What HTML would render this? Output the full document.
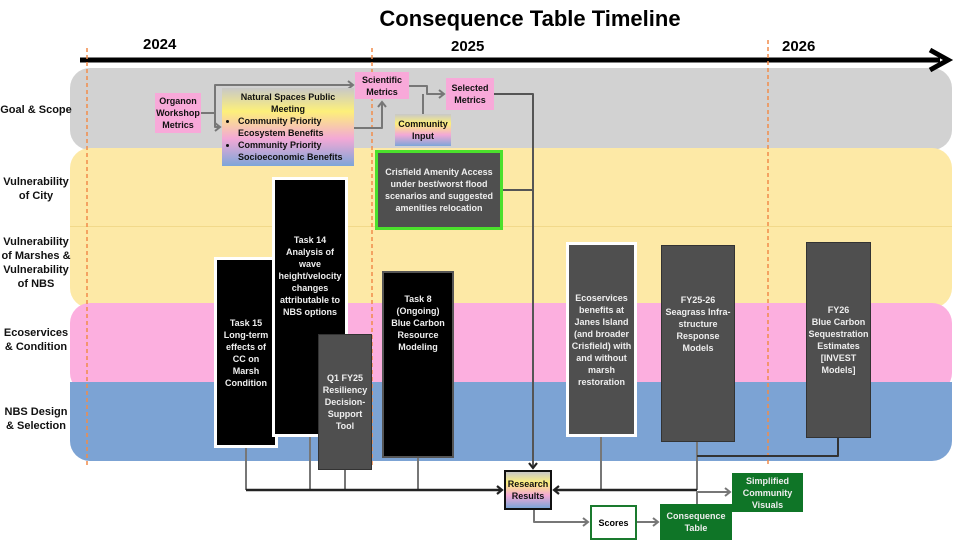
<!DOCTYPE html>
<html><head><meta charset="utf-8"><style>
body{margin:0;width:960px;height:540px;overflow:hidden;background:#fff;font-family:"Liberation Sans",sans-serif;position:relative}
.a{position:absolute}
.band{position:absolute;left:70px;width:882px;border-radius:20px}
.lab{position:absolute;left:0;width:72px;font-size:11px;font-weight:bold;color:#111;text-align:center;line-height:14px}
.box{position:absolute;box-sizing:border-box;display:flex;align-items:center;justify-content:center;text-align:center;font-size:9px;font-weight:bold;line-height:12px}
.dk{color:#eee;background:#000}
.gr{color:#eee;background:#4f4f4f}
.pk{background:#f8a9d9;color:#111}
.grad{background:linear-gradient(#c8c8c8,#fdf07a 30%,#f3a8d6 65%,#7da6d8);color:#111}
.top{align-items:flex-start}
</style></head><body>
<div class="a" style="left:0;top:6px;width:1060px;text-align:center;font-size:22px;font-weight:bold">Consequence Table Timeline</div>
<div class="a" style="left:143px;top:36px;font-size:15px;font-weight:bold">2024</div>
<div class="a" style="left:451px;top:38px;font-size:15px;font-weight:bold">2025</div>
<div class="a" style="left:782px;top:38px;font-size:15px;font-weight:bold">2026</div>
<div class="band" style="top:68px;height:82px;background:#d2d2d2"></div>
<div class="band" style="top:148px;height:160px;background:#fde9a6"></div>
<div class="a" style="left:70px;top:226px;width:882px;height:1px;background:#f2d98a"></div>
<div class="band" style="top:303px;height:90px;background:#fcafdf"></div>
<div class="band" style="top:382px;height:79px;background:#7ca3d4;border-radius:0 0 20px 20px"></div>
<div class="lab" style="top:103px">Goal &amp; Scope</div>
<div class="lab" style="top:175px">Vulnerability<br>of City</div>
<div class="lab" style="top:235px">Vulnerability<br>of Marshes &amp;<br>Vulnerability<br>of NBS</div>
<div class="lab" style="top:326px">Ecoservices<br>&amp; Condition</div>
<div class="lab" style="top:405px">NBS Design<br>&amp; Selection</div>
<svg class="a" style="left:0;top:0" width="960" height="540">
<defs><marker id="m" markerUnits="userSpaceOnUse" markerWidth="8" markerHeight="10" refX="6" refY="5" orient="auto"><path d="M1,1 L6,5 L1,9" fill="none" stroke="#777" stroke-width="2"/></marker>
<marker id="k" markerUnits="userSpaceOnUse" markerWidth="8" markerHeight="10" refX="6" refY="5" orient="auto"><path d="M1,1 L6,5 L1,9" fill="none" stroke="#222" stroke-width="2.2"/></marker></defs>
<line x1="80" y1="60" x2="940" y2="60" stroke="#000" stroke-width="5"/>
<path d="M930,50 L948,60 L930,70" fill="none" stroke="#000" stroke-width="5"/>
<g stroke="#f28c4a" stroke-width="1.5" stroke-dasharray="4,3"><line x1="87" y1="48" x2="87" y2="465"/><line x1="372" y1="48" x2="372" y2="465"/><line x1="768" y1="40" x2="768" y2="465"/></g>
<g fill="none" stroke="#777" stroke-width="2" stroke-linejoin="round">
<path d="M201,113 H215 V85 H353" marker-end="url(#m)"/>
<path d="M215,113 V127 H220" marker-end="url(#m)"/>
<path d="M354,128 H382 V102" marker-end="url(#m)"/>
<path d="M409,86 H427 V94 H444" marker-end="url(#m)"/>
<path d="M423,114 V94"/>
<path d="M494,94 H533 V468" marker-end="url(#k)" stroke="#555"/>
<path d="M502,190 H533" stroke="#555"/>
<path d="M246,448 V490 M310,437 V490 M345,470 V490 M418,458 V490"/>
<path d="M246,490 H502" stroke="#222" stroke-width="2.5" marker-end="url(#k)"/>
<path d="M601,437 V490 M697,442 V490"/>
<path d="M697,456 H838 V438" stroke="#333"/>
<path d="M697,490 H554" stroke="#222" stroke-width="2.5" marker-end="url(#k)"/>
<path d="M534,510 V522 H588" marker-end="url(#m)"/>
<path d="M637,522 H658" marker-end="url(#m)"/>
<path d="M697,504 V492 H730" marker-end="url(#m)"/>
</g></svg>
<div class="box pk" style="left:155px;top:93px;width:46px;height:40px">Organon Workshop Metrics</div>
<div class="box grad" style="left:222px;top:88px;width:132px;height:78px;display:block;text-align:left;padding:3px 4px;font-size:9px"><div style="text-align:center">Natural Spaces Public Meeting</div><ul style="margin:0;padding-left:12px"><li>Community Priority Ecosystem Benefits</li><li>Community Priority Socioeconomic Benefits</li></ul></div>
<div class="box pk" style="left:355px;top:72px;width:54px;height:27px">Scientific Metrics</div>
<div class="box grad" style="left:395px;top:114px;width:56px;height:32px">Community Input</div>
<div class="box pk" style="left:446px;top:78px;width:48px;height:32px">Selected Metrics</div>
<div class="box gr" style="left:375px;top:150px;width:128px;height:80px;border:3px solid #4be02c">Crisfield Amenity Access under best/worst flood scenarios and suggested amenities relocation</div>
<div class="box dk" style="left:214px;top:257px;width:64px;height:191px;border:3px solid #fff;padding:0 2px">Task 15<br>Long-term effects of CC on Marsh Condition</div>
<div class="box dk top" style="left:272px;top:177px;width:76px;height:260px;border:3px solid #fff;padding:54px 2px 0">Task 14<br>Analysis of wave height/velocity changes attributable to NBS options</div>
<div class="box gr" style="left:318px;top:334px;width:54px;height:136px;border:1px solid #333">Q1 FY25 Resiliency Decision-Support Tool</div>
<div class="box dk top" style="left:382px;top:271px;width:72px;height:187px;border:2px solid #555;padding:20px 2px 0">Task 8 (Ongoing) Blue Carbon Resource Modeling</div>
<div class="box gr" style="left:566px;top:242px;width:71px;height:195px;border:3px solid #fff;padding:0 2px">Ecoservices benefits at Janes Island (and broader Crisfield) with and without marsh restoration</div>
<div class="box gr top" style="left:661px;top:245px;width:74px;height:197px;border:1px solid #333;padding:48px 2px 0">FY25-26<br>Seagrass Infra-structure Response Models</div>
<div class="box gr" style="left:806px;top:242px;width:65px;height:196px;border:1px solid #333;padding:0 1px">FY26<br>Blue Carbon Sequestration Estimates [INVEST Models]</div>
<div class="box grad" style="left:504px;top:470px;width:48px;height:40px;border:2px solid #111">Research Results</div>
<div class="box" style="left:590px;top:505px;width:47px;height:35px;border:2px solid #1a7a2e;background:#fff">Scores</div>
<div class="box" style="left:660px;top:504px;width:72px;height:36px;background:#0f7527;color:#eee">Consequence Table</div>
<div class="box" style="left:732px;top:473px;width:71px;height:39px;background:#0f7527;color:#eee">Simplified Community Visuals</div>
</body></html>
